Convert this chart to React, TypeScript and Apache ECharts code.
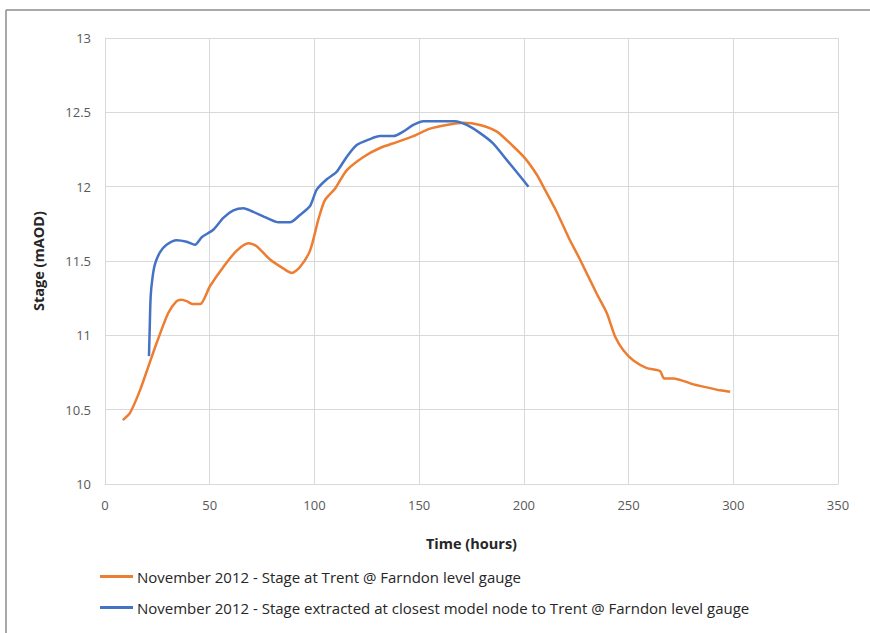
import React, { useEffect, useRef } from "react";
import * as echarts from "echarts";

const orangeHours = [8.5, 12, 16.7, 20.7, 24.7, 30.2, 34.2, 36.5, 39, 42, 45.4, 50.1, 56.5, 62.9, 68.5, 72.4, 78.8, 85.1, 89.1, 93.1, 97.9, 101.9, 105, 110, 115.4, 123.4, 131.3, 139.3, 147.2, 155.2, 163.1, 171.1, 179.1, 187.1, 195, 200.6, 206.2, 209.3, 215.7, 221.3, 226.8, 234.8, 239.6, 243.6, 247.5, 252.3, 258.7, 265, 267, 271.4, 281, 287.3, 293.7, 298.5];
const orangeStage = [10.43, 10.48, 10.63, 10.79, 10.95, 11.15, 11.23, 11.24, 11.23, 11.21, 11.21, 11.33, 11.46, 11.57, 11.62, 11.6, 11.51, 11.45, 11.42, 11.46, 11.57, 11.78, 11.91, 11.99, 12.11, 12.2, 12.26, 12.3, 12.34, 12.39, 12.415, 12.43, 12.415, 12.37, 12.27, 12.19, 12.08, 12.0, 11.83, 11.66, 11.51, 11.28, 11.15, 10.99, 10.9, 10.83, 10.78, 10.76, 10.71, 10.71, 10.67, 10.65, 10.63, 10.62];

const blueHours = [21, 21.3, 21.8, 22.7, 23.9, 26.3, 29.4, 34.2, 39, 43, 46.2, 51.7, 56.5, 61.3, 66.1, 70.8, 77.2, 82.8, 88.3, 93.1, 97.9, 101.1, 105.9, 110.6, 115.4, 120.2, 126.5, 131.3, 137.7, 142.4, 147.2, 152, 160, 167.1, 172.7, 179.1, 185.4, 191.8, 198.2, 202.2];
const blueStage = [10.86, 11.02, 11.26, 11.39, 11.48, 11.56, 11.61, 11.64, 11.63, 11.61, 11.66, 11.71, 11.79, 11.84, 11.855, 11.83, 11.79, 11.76, 11.76, 11.81, 11.87, 11.98, 12.05, 12.1, 12.2, 12.28, 12.32, 12.34, 12.34, 12.37, 12.415, 12.44, 12.44, 12.44, 12.415, 12.36, 12.29, 12.18, 12.07, 12.0];

const seriesNames = [
  "November 2012 - Stage at Trent @ Farndon level gauge",
  "November 2012 - Stage extracted at closest model node to Trent @ Farndon level gauge",
];
const xAxisTitle = "Time (hours)";
const yAxisTitle = "Stage (mAOD)";

const FONT = "'Open Sans', 'Liberation Sans', sans-serif";

export default function App() {
  const ref = useRef<HTMLDivElement>(null);
  useEffect(() => {
    if (!ref.current) return;
    const chart = echarts.init(ref.current, undefined, { renderer: "svg" });
    chart.setOption({
      animation: false,
      backgroundColor: "#ffffff",
      textStyle: { fontFamily: FONT },
      grid: { left: 105, right: 32, top: 38, bottom: 149, containLabel: false },
      graphic: [
        { type: "line", shape: { x1: 6, y1: 10, x2: 870, y2: 10 }, style: { stroke: "#8c8c8c", lineWidth: 1.5 } },
        { type: "line", shape: { x1: 6, y1: 10, x2: 6, y2: 633 }, style: { stroke: "#8c8c8c", lineWidth: 1.5 } },
      ],
      xAxis: {
        type: "value",
        min: 0,
        max: 350,
        interval: 50,
        name: xAxisTitle,
        nameLocation: "middle",
        nameGap: 52,
        nameTextStyle: { fontFamily: FONT, fontSize: 14.5, fontWeight: "bold", color: "#262626" },
        axisLine: { show: true, lineStyle: { color: "#d9d9d9", width: 1 } },
        axisTick: { show: false },
        axisLabel: { color: "#595959", fontSize: 13, margin: 14, fontFamily: FONT },
        splitLine: { show: true, lineStyle: { color: "#d9d9d9", width: 1 } },
      },
      yAxis: {
        type: "value",
        min: 10,
        max: 13,
        interval: 0.5,
        name: yAxisTitle,
        nameLocation: "middle",
        nameGap: 59,
        nameRotate: 90,
        nameTextStyle: { fontFamily: FONT, fontSize: 14.5, fontWeight: "bold", color: "#262626" },
        axisLine: { show: true, lineStyle: { color: "#d9d9d9", width: 1 } },
        axisTick: { show: false },
        axisLabel: { color: "#595959", fontSize: 13, margin: 14, fontFamily: FONT },
        splitLine: { show: true, lineStyle: { color: "#d9d9d9", width: 1 } },
      },
      legend: {
        orient: "vertical",
        left: 95,
        top: 564,
        itemGap: 16,
        itemWidth: 33,
        itemHeight: 3,
        icon: "rect",
        textStyle: { fontFamily: FONT, fontSize: 15, color: "#262626", padding: [0, 0, 0, -1] },
        data: seriesNames,
      },
      series: [
        {
          name: seriesNames[0],
          type: "line",
          showSymbol: false,
          symbol: "none",
          smooth: 0.25,
          color: "#ed7d31",
          lineStyle: { color: "#ed7d31", width: 2.5 },
          data: orangeHours.map((h, i) => [h, orangeStage[i]]),
        },
        {
          name: seriesNames[1],
          type: "line",
          showSymbol: false,
          symbol: "none",
          smooth: 0.25,
          color: "#4472c4",
          lineStyle: { color: "#4472c4", width: 2.5 },
          data: blueHours.map((h, i) => [h, blueStage[i]]),
        },
      ],
    });
    return () => chart.dispose();
  }, []);
  return <div ref={ref} style={{ width: 870, height: 633, position: "absolute", left: 0, top: 0 }} />;
}
